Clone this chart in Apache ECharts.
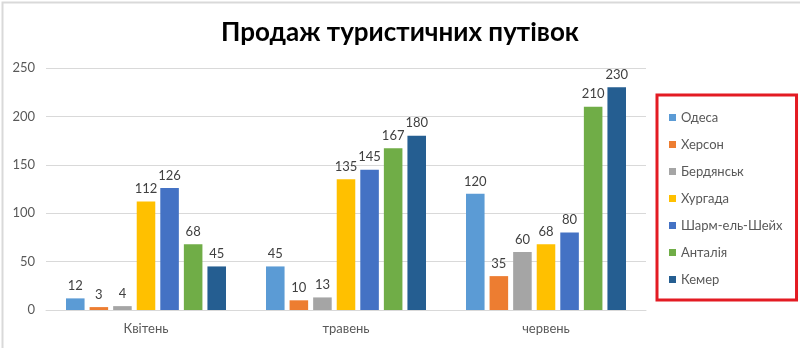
<!DOCTYPE html>
<html>
<head>
<meta charset="utf-8">
<script src="https://cdn.jsdelivr.net/npm/echarts@6/dist/echarts.min.js"></script>
<style>
  html, body { margin: 0; padding: 0; background: #fff; }
  #chart { width: 800px; height: 348px; }
</style>
</head>
<body>
<div id="chart"></div>
<script>
// Months (categories)
const months = ['Квітень', 'травень', 'червень'];

// Resort names and their tour sales per month
const resorts = ['Одеса', 'Херсон', 'Бердянськ', 'Хургада', 'Шарм-ель-Шейх', 'Анталія', 'Кемер'];
const odesa = [12, 45, 120];
const kherson = [3, 10, 35];
const berdiansk = [4, 13, 60];
const hurghada = [112, 135, 68];
const sharm = [126, 145, 80];
const antalya = [68, 167, 210];
const kemer = [45, 180, 230];

const colors = ['#5B9BD5', '#ED7D31', '#A5A5A5', '#FFC000', '#4472C4', '#70AD47', '#255E91'];
const values = [odesa, kherson, berdiansk, hurghada, sharm, antalya, kemer];

const font = 'Lato, "Open Sans", "DejaVu Sans", sans-serif';

const chart = echarts.init(document.getElementById('chart'));
chart.setOption({
  animation: false,
  color: colors,
  title: {
    text: 'Продаж туристичних путівок',
    left: 'center',
    top: 15,
    textStyle: { fontFamily: font, fontSize: 26, fontWeight: 'bold', color: '#000' }
  },
  legend: {
    orient: 'vertical',
    left: 657,
    top: 95,
    data: resorts,
    icon: 'rect',
    itemWidth: 7,
    itemHeight: 7,
    itemGap: 14,
    padding: [16, 14, 14, 12],
    borderColor: '#E31B23',
    borderWidth: 3,
    textStyle: { fontFamily: font, fontSize: 13, color: '#595959' }
  },
  grid: { left: 46, right: 154, top: 68, bottom: 38 },
  xAxis: {
    type: 'category',
    data: months,
    axisTick: { show: false },
    axisLine: { lineStyle: { color: '#D9D9D9' } },
    axisLabel: { fontFamily: font, fontSize: 13, color: '#595959', margin: 12 }
  },
  yAxis: {
    type: 'value',
    min: 0,
    max: 250,
    interval: 50,
    splitLine: { lineStyle: { color: '#D9D9D9' } },
    axisLabel: { fontFamily: font, fontSize: 13, color: '#595959', margin: 11 }
  },
  series: resorts.map((name, i) => ({
    name: name,
    type: 'bar',
    data: values[i],
    barGap: '27%',
    barCategoryGap: '20%',
    label: {
      show: true,
      position: 'top',
      distance: 6,
      fontFamily: font,
      fontSize: 13,
      color: '#404040'
    }
  })),
  graphic: [{
    type: 'rect',
    left: 0,
    top: 0,
    shape: { width: 799, height: 347 },
    style: { fill: 'none', stroke: '#D9D9D9', lineWidth: 2 },
    silent: true
  }]
});
</script>
</body>
</html>
